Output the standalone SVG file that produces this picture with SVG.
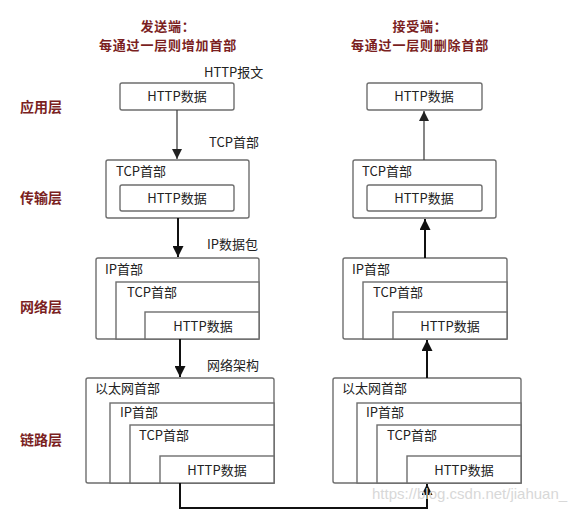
<svg xmlns="http://www.w3.org/2000/svg" width="587" height="511" viewBox="0 0 587 511">
<defs>
<marker id="ah" viewBox="0 0 10 10" refX="10" refY="5" markerWidth="10" markerHeight="10" markerUnits="userSpaceOnUse" orient="auto"><path d="M0,0 L10,5 L0,10 z" fill="#222"/></marker>
<marker id="ah2" viewBox="0 0 10 10" refX="10" refY="5" markerWidth="11" markerHeight="11" markerUnits="userSpaceOnUse" orient="auto"><path d="M0,0 L10,5 L0,10 z" fill="#111"/></marker>
<style>
.b{fill:#fff;stroke:#6e6e6e;stroke-width:1.4}
.t{font-family:"Noto Sans CJK SC","Noto Sans",sans-serif;font-size:13px;fill:#222}
.c{text-anchor:middle}
.h{font-family:"Noto Sans CJK SC",sans-serif;font-size:13px;letter-spacing:0.8px;font-weight:bold;fill:#7b1f1f;text-anchor:middle}
.l{font-family:"Noto Sans CJK SC",sans-serif;font-size:14px;font-weight:bold;fill:#7b1f1f}
.a1{stroke:#444;stroke-width:1.3;fill:none}
.a2{stroke:#111;stroke-width:2;fill:none}
.wm{font-family:"Liberation Sans",sans-serif;font-size:15px;fill:#d8d8d8}
</style>
</defs>
<rect width="587" height="511" fill="#fff"/>
<g id="titles">
<text class="h" x="168" y="31">发送端：</text>
<text class="h" x="168" y="50">每通过一层则增加首部</text>
<text class="h" x="420" y="31">接受端：</text>
<text class="h" x="420" y="50">每通过一层则删除首部</text>
</g>
<g id="layers">
<text class="l" x="20" y="112">应用层</text>
<text class="l" x="20" y="203">传输层</text>
<text class="l" x="20" y="312">网络层</text>
<text class="l" x="20" y="445">链路层</text>
</g>
<g id="labels">
<text class="t" x="204" y="77">HTTP报文</text>
<text class="t" x="209" y="147">TCP首部</text>
<text class="t" x="207" y="249">IP数据包</text>
<text class="t" x="207" y="370">网络架构</text>
</g>
<g id="s-app"><rect class="b" x="120" y="83" width="114" height="27" rx="2"/><text class="t c" x="177" y="101">HTTP数据</text></g>
<g id="s-tcp"><rect class="b" x="106" y="160" width="143" height="58" rx="2"/><text class="t" x="116" y="176">TCP首部</text>
<rect class="b" x="120" y="185" width="114" height="26" rx="2"/><text class="t c" x="177" y="203">HTTP数据</text></g>
<g id="s-ip"><rect class="b" x="96" y="258" width="163" height="81" rx="2"/><text class="t" x="105" y="274">IP首部</text>
<rect class="b" x="116" y="282" width="143" height="57"/><text class="t" x="127" y="297">TCP首部</text>
<rect class="b" x="145" y="312" width="114" height="27"/><text class="t c" x="203" y="331">HTTP数据</text></g>
<g id="s-eth"><rect class="b" x="86" y="378" width="188" height="105" rx="2"/><text class="t" x="95" y="393">以太网首部</text>
<rect class="b" x="110" y="403" width="164" height="80"/><text class="t" x="120" y="417">IP首部</text>
<rect class="b" x="130" y="425" width="144" height="58"/><text class="t" x="139" y="440">TCP首部</text>
<rect class="b" x="160" y="456" width="114" height="27"/><text class="t c" x="217" y="475">HTTP数据</text></g>
<g id="r-app"><rect class="b" x="367" y="83" width="115" height="27" rx="2"/><text class="t c" x="424" y="101">HTTP数据</text></g>
<g id="r-tcp"><rect class="b" x="353" y="160" width="143" height="58" rx="2"/><text class="t" x="362" y="176">TCP首部</text>
<rect class="b" x="367" y="185" width="115" height="26" rx="2"/><text class="t c" x="424" y="203">HTTP数据</text></g>
<g id="r-ip"><rect class="b" x="343" y="258" width="164" height="81" rx="2"/><text class="t" x="352" y="274">IP首部</text>
<rect class="b" x="363" y="282" width="144" height="57"/><text class="t" x="373" y="297">TCP首部</text>
<rect class="b" x="393" y="312" width="114" height="27"/><text class="t c" x="450" y="331">HTTP数据</text></g>
<g id="r-eth"><rect class="b" x="333" y="378" width="188" height="105" rx="2"/><text class="t" x="342" y="393">以太网首部</text>
<rect class="b" x="357" y="403" width="164" height="80"/><text class="t" x="366" y="417">IP首部</text>
<rect class="b" x="377" y="425" width="144" height="58"/><text class="t" x="387" y="440">TCP首部</text>
<rect class="b" x="407" y="456" width="114" height="27"/><text class="t c" x="464" y="475">HTTP数据</text></g>
<g id="connectors">
<line class="a1" x1="177" y1="110" x2="177" y2="159" marker-end="url(#ah)"/>
<line class="a2" x1="178" y1="218" x2="178" y2="257" marker-end="url(#ah2)"/>
<line class="a2" x1="180" y1="339" x2="180" y2="377" marker-end="url(#ah2)"/>
<path class="a2" d="M180,483 V508 H427 V484" marker-end="url(#ah2)"/>
<line class="a1" x1="424" y1="160" x2="424" y2="111" marker-end="url(#ah)"/>
<line class="a2" x1="425" y1="258" x2="425" y2="219" marker-end="url(#ah2)"/>
<line class="a2" x1="427" y1="378" x2="427" y2="340" marker-end="url(#ah2)"/>
</g>
<text class="wm" x="372" y="499">https://blog.csdn.net/jiahuan_</text>
</svg>
